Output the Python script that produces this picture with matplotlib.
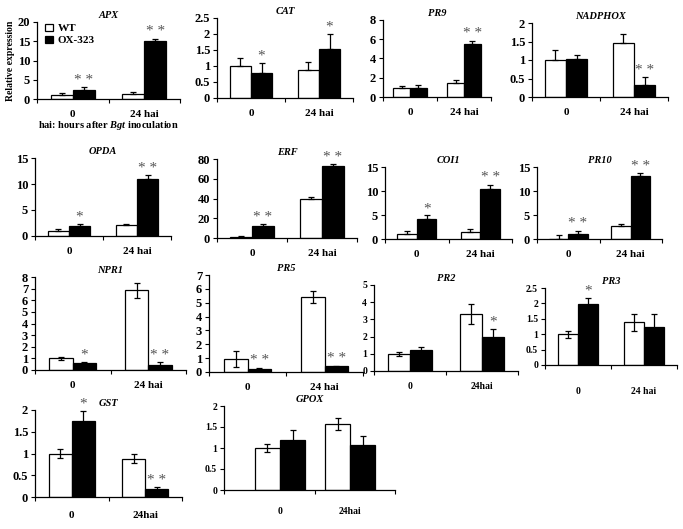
import matplotlib
matplotlib.use("Agg")
import matplotlib.pyplot as plt
import numpy as np

plt.rcParams['font.family'] = ['Liberation Serif', 'DejaVu Serif']
plt.rcParams['font.weight'] = 'bold'
plt.rcParams['mathtext.fontset'] = 'custom'
plt.rcParams['mathtext.rm'] = 'Liberation Serif:bold'
plt.rcParams['mathtext.it'] = 'Liberation Serif:italic:bold'
plt.rcParams['mathtext.bf'] = 'Liberation Serif:bold'

FIG_W, FIG_H = 683, 529

genes = ["APX", "CAT", "PR9", "NADPHOX", "OPDA", "ERF", "COI1", "PR10",
         "NPR1", "PR5", "PR2", "PR3", "GST", "GPOX"]
# values at [0, 24 hai]
wt_means = [[1.0, 1.2], [1.0, 0.88], [0.95, 1.45], [1.0, 1.47],
            [0.9, 2.2], [1.0, 40], [1.0, 1.4], [0.05, 2.8],
            [1.0, 6.85], [0.95, 5.4], [1.0, 3.3], [1.0, 1.38],
            [1.0, 0.88], [1.0, 1.57]]
wt_errs = [[0.5, 0.5], [0.25, 0.25], [0.2, 0.3], [0.27, 0.22],
           [0.4, 0.2], [0.8, 2.0], [0.7, 0.6], [0.7, 0.3],
           [0.15, 0.65], [0.6, 0.45], [0.1, 0.58], [0.12, 0.26],
           [0.1, 0.1], [0.1, 0.14]]
ox_means = [[2.3, 15.0], [0.77, 1.52], [0.95, 5.55], [1.03, 0.33],
            [2.0, 11.0], [12, 73], [4.2, 10.5], [1.1, 13.2],
            [0.6, 0.45], [0.2, 0.4], [1.22, 2.0], [1.98, 1.25],
            [1.75, 0.18], [1.2, 1.08]]
ox_errs = [[0.7, 0.7], [0.33, 0.48], [0.3, 0.3], [0.1, 0.2],
           [0.4, 0.7], [2.0, 2.0], [0.7, 0.8], [0.6, 0.5],
           [0.07, 0.2], [0.12, 0.06], [0.2, 0.45], [0.2, 0.42],
           [0.22, 0.04], [0.24, 0.2]]
ox_sig = [["**", "**"], ["*", "*"], ["", "**"], ["", "**"],
          ["*", "**"], ["**", "**"], ["*", "**"], ["**", "**"],
          ["*", "**"], ["**", "**"], ["", "*"], ["*", ""],
          ["*", "**"], ["", ""]]
y_max = [20, 2.5, 8, 2, 15, 80, 15, 15, 8, 7, 5, 2.5, 2, 2]
y_step = [5, 0.5, 2, 0.5, 5, 20, 5, 5, 1, 1, 1, 0.5, 0.5, 0.5]
x_labels = [["0", "24 hai"]] * 10 + [["0", "24hai"], ["0", "24 hai"],
                                     ["0", "24hai"], ["0", "24hai"]]
series_names = ["WT", "OX-323"]

# panel layout in pixels: left, right, top(y=max), bottom(y=0)
boxes = [(37, 180, 22, 99), (217, 353, 18, 98), (383, 491, 20, 97), (532, 668, 23, 97),
         (35, 171, 158, 236), (217, 357, 159, 238), (385, 512, 167, 239), (537, 662, 167, 239),
         (35, 186, 277, 370), (209, 363, 275, 372), (374, 518, 285, 371), (545, 677, 288, 365),
         (35, 182, 410, 497), (224, 395, 406, 490)]
x_lims = [(-0.5, 1.5)] * 13 + [(-0.8, 1.64)]
bar_w = [0.31] * 13 + [0.36]
label_pad = [8] * 11 + [16, 10, 12]
two_sided = [False] * 8 + [True] * 6
small_font = [False] * 10 + [True, True, False, True]

fig = plt.figure(figsize=(FIG_W / 100, FIG_H / 100), dpi=100)

for i, g in enumerate(genes):
    l, r, t, b = boxes[i]
    ax = fig.add_axes([l / FIG_W, 1 - b / FIG_H, (r - l) / FIG_W, (b - t) / FIG_H])
    x = np.array([0, 1])
    w = bar_w[i]
    wm, we = np.array(wt_means[i]), np.array(wt_errs[i])
    om, oe = np.array(ox_means[i]), np.array(ox_errs[i])
    if two_sided[i]:
        wyerr = we
        oyerr = oe
    else:
        wyerr = [np.zeros(2), we]
        oyerr = [np.zeros(2), oe]
    ekw = dict(ecolor='black', elinewidth=0.9, capsize=2.5, capthick=0.9)
    ax.bar(x - w / 2, wm, w, color='white', edgecolor='black', linewidth=0.9,
           yerr=wyerr, error_kw=ekw, label=series_names[0], zorder=2)
    ax.bar(x + w / 2, om, w, color='black', edgecolor='black', linewidth=0.9,
           yerr=oyerr, error_kw=ekw, label=series_names[1], zorder=2)
    for j in range(2):
        s = ox_sig[i][j]
        if s:
            ax.text(x[j] + w / 2, om[j] + oe[j] + y_max[i] * 0.005, " ".join(s),
                    ha='center', va='bottom', fontsize=11, color='#555555',
                    fontweight='normal')
    x0, x1 = x_lims[i]
    ax.set_xlim(x0, x1)
    ax.set_ylim(0, y_max[i])
    yt = np.arange(0, y_max[i] + y_step[i] / 2, y_step[i])
    ax.set_yticks(yt)
    fs = 7 if small_font[i] else 9
    ax.set_yticklabels([f"{v:g}" for v in yt], fontsize=fs, fontweight='bold')
    ax.set_xticks([x0, 0.5, x1])
    ax.set_xticklabels([])
    ax.set_xticks(x, minor=True)
    ax.set_xticklabels(x_labels[i], minor=True, fontsize=8 if not small_font[i] else 7,
                       fontweight='bold')
    ax.tick_params(axis='x', which='minor', length=0, pad=label_pad[i])
    ax.tick_params(axis='x', which='major', length=3, direction='out', width=0.8)
    ax.tick_params(axis='y', length=3, direction='out', width=0.8, pad=2)
    for sp in ['top', 'right']:
        ax.spines[sp].set_visible(False)
    for sp in ['left', 'bottom']:
        ax.spines[sp].set_linewidth(0.9)
    ax.set_title(g, fontsize=7.5, fontstyle='italic', fontweight='bold', pad=3)
    if i == 0:
        ax.set_ylabel("Relative expression", fontsize=7, fontweight='bold', labelpad=2)
        ax.legend(loc='upper left', frameon=False, fontsize=8, handlelength=0.7,
                  handleheight=0.7, borderaxespad=0.1, labelspacing=0.2,
                  handletextpad=0.4, bbox_to_anchor=(0.02, 1.05))
        ax.text(0.5, -0.26, "hai: hours after $\\mathit{Bgt}$ inoculation",
                transform=ax.transAxes, ha='center', va='top', fontsize=7.5,
                fontweight='bold')

fig.savefig("out.png", dpi=100)
